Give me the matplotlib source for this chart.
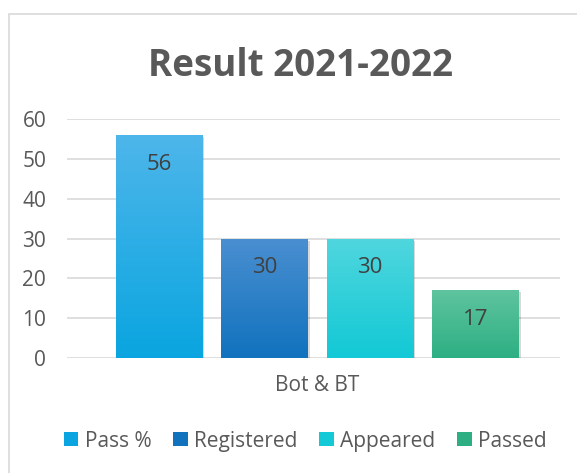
import matplotlib
matplotlib.use("Agg")
import matplotlib.pyplot as plt
import numpy as np
from matplotlib.colors import LinearSegmentedColormap
from matplotlib.patches import Rectangle, Patch
import matplotlib.patheffects as pe

categories = ["Bot & BT"]
series = ["Pass %", "Registered", "Appeared", "Passed"]
values = [56, 30, 30, 17]
top_colors = ["#4EB6EA", "#4A8FD0", "#50D6DE", "#5EC49F"]
bot_colors = ["#0AA5E0", "#1172BE", "#12C9D5", "#2EAF83"]
yticks = [0, 10, 20, 30, 40, 50, 60]

W, H = 577, 473
fig = plt.figure(figsize=(W/100, H/100), dpi=100)
fig.patch.set_facecolor("white")
fig.patches.append(Rectangle((9/W, -0.1), 1.1, 1 - 14/H + 0.1, transform=fig.transFigure,
                             fill=False, edgecolor="#D9D9D9", linewidth=1.2))

ax = fig.add_axes([67/W, 1 - 358/H, (560-67)/W, (358-119)/H])
ax.set_xlim(-0.5076, 0.4924)
ax.set_ylim(0, 60)
ax.set_yticks(yticks)
ax.yaxis.grid(True, color="#D9D9D9", linewidth=1.2)
ax.set_axisbelow(True)
for s in ax.spines.values():
    s.set_visible(False)
ax.tick_params(length=0, labelsize=15, labelcolor="#595959", pad=15)
ax.tick_params(axis="x", pad=12)
ax.set_xticks([0])
ax.set_xticklabels(categories)
for t in ax.get_xticklabels() + ax.get_yticklabels():
    t.set_fontfamily("Open Sans")

step = 0.214
width = 0.1745
handles = []
for i, (name, v, tc, bc) in enumerate(zip(series, values, top_colors, bot_colors)):
    x = (i - 1.5) * step
    bar = ax.bar(x, v, width=width, color=bc, zorder=2,
                 path_effects=[pe.SimplePatchShadow(offset=(1.5, -1.5), shadow_rgbFace="#000000", alpha=0.15), pe.Normal()])[0]
    cmap = LinearSegmentedColormap.from_list(f"g{i}", [bc, tc])
    grad = np.linspace(0, 1, 256).reshape(-1, 1)
    im = ax.imshow(grad, cmap=cmap, origin="lower", aspect="auto",
                   extent=[x - width/2, x + width/2, 0, v], zorder=3)
    im.set_clip_path(bar)
    ax.text(x, v - 7.3, str(v), ha="center", va="center", fontsize=16, color="#404040",
            family="Open Sans", zorder=4)
    handles.append(Patch(facecolor=bc, edgecolor="none", label=name))
ax.set_xlim(-0.5076, 0.4924)
ax.set_ylim(0, 60)

fig.text(0.52, 1 - 66/H, "Result 2021-2022", ha="center", va="center", fontsize=26.5,
         fontweight="bold", color="#595959", family="Open Sans")

leg = fig.legend(handles=handles, loc="center", bbox_to_anchor=(0.529, 1 - 441/H), ncol=4,
                 frameon=False, handlelength=0.7, handleheight=0.65, handletextpad=0.3,
                 columnspacing=1.05, borderpad=0.2, prop={"family": "Open Sans", "size": 15})
for t in leg.get_texts():
    t.set_color("#595959")

fig.savefig("out.png", dpi=100, facecolor="white")
